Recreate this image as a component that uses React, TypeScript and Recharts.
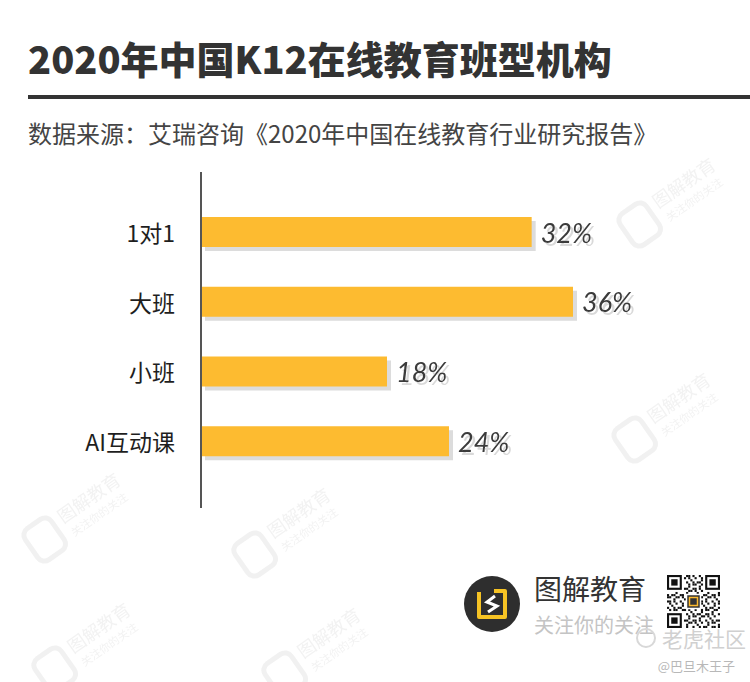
import React from "react";
import { BarChart, Bar, XAxis, YAxis, LabelList } from "recharts";

const categories = ["1对1", "大班", "小班", "AI互动课"];
const shares = [32, 36, 18, 24];
const data = categories.map((name, i) => ({ name, value: shares[i] }));

const title = "2020年中国K12在线教育班型机构";
const source = "数据来源：艾瑞咨询《2020年中国在线教育行业研究报告》";
const brandName = "图解教育";
const brandSlogan = "关注你的关注";
const siteMark = "老虎社区";
const authorMark = "@巴旦木王子";

const YELLOW = "#FDBB30";
const CJK = '"Noto Sans CJK SC", "Noto Sans", sans-serif';

// faint background stamps, kept in empty areas
const stamps = [
  [655, 215], [650, 430], [60, 530], [270, 545], [70, 660], [300, 665],
];

function Stamp({ x, y }: { x: number; y: number }) {
  return (
    <g transform={`translate(${x},${y}) rotate(-35)`} opacity={0.55}>
      <rect x={-34} y={-20} width={32} height={38} rx={8} fill="none" stroke="#e6e6e6" strokeWidth={5} />
      <text fontFamily={CJK} fill="#e8e8e8">
        <tspan x={6} y={-3} fontSize={18}>{brandName}</tspan>
        <tspan x={8} y={14} fontSize={11}>{brandSlogan}</tspan>
      </text>
    </g>
  );
}

function ShadowBar(props: any) {
  const { x, y, width, height } = props;
  return (
    <g>
      <rect x={x + 4} y={y + 4} width={width} height={height} fill="#dcdcdc" />
      <rect x={x} y={y} width={width} height={height} fill={YELLOW} />
    </g>
  );
}

function ValueLabel(props: any) {
  const { x, y, width, height, value } = props;
  return (
    <text
      x={x + width + 9}
      y={y + height / 2}
      fill="#3a3a3a"
      fontFamily="Lato, Roboto, sans-serif"
      fontStyle="italic"
      fontWeight={400}
      fontSize={27}
      dominantBaseline="central"
      filter="url(#labelShadow)"
    >
      {value}%
    </text>
  );
}

function CategoryTick(props: any) {
  const { x, y, payload } = props;
  return (
    <text x={x} y={y} textAnchor="end" dominantBaseline="central" fontSize={23} fill="#1e1e1e" fontFamily={CJK}>
      {payload.value}
    </text>
  );
}

function QrCode({ x, y, size }: { x: number; y: number; size: number }) {
  const n = 25;
  const m = size / n;
  const cells: React.ReactNode[] = [];
  const finder = (fx: number, fy: number, key: string) => (
    <g key={key}>
      <rect x={x + fx * m} y={y + fy * m} width={7 * m} height={7 * m} fill="#111" />
      <rect x={x + (fx + 1) * m} y={y + (fy + 1) * m} width={5 * m} height={5 * m} fill="#fff" />
      <rect x={x + (fx + 2) * m} y={y + (fy + 2) * m} width={3 * m} height={3 * m} fill="#111" />
    </g>
  );
  for (let i = 0; i < n; i++) {
    for (let j = 0; j < n; j++) {
      const inFinder = (i < 8 && j < 8) || (i < 8 && j > n - 9) || (i > n - 9 && j < 8);
      if (inFinder) continue;
      if ((i * 7 + j * 13 + i * j) % 3 === 0 || (i + j * 3) % 5 === 0) {
        cells.push(<rect key={`${i}-${j}`} x={x + j * m} y={y + i * m} width={m} height={m} fill="#111" />);
      }
    }
  }
  return (
    <g>
      {cells}
      {finder(0, 0, "a")}
      {finder(n - 7, 0, "b")}
      {finder(0, n - 7, "c")}
      <rect x={x + size / 2 - 7} y={y + size / 2 - 7} width={14} height={14} fill="#333" stroke="#fff" strokeWidth={1.5} />
      <rect x={x + size / 2 - 4} y={y + size / 2 - 4} width={8} height={8} fill="none" stroke={YELLOW} strokeWidth={1.5} />
    </g>
  );
}

function Footer() {
  const cx = 492;
  const cy = 604;
  return (
    <svg width={750} height={682} style={{ position: "absolute", left: 0, top: 0 }}>
      <circle cx={cx} cy={cy} r={28} fill="#2e2e2e" />
      <path
        d={`M${cx - 13} ${cy - 12} L${cx - 13} ${cy + 13} L${cx + 13} ${cy + 13} L${cx + 13} ${cy - 13} L${cx + 2} ${cy - 13}`}
        fill="none"
        stroke="#F6C324"
        strokeWidth={4}
        strokeLinejoin="round"
      />
      <path
        d={`M${cx + 3} ${cy - 8} L${cx - 5} ${cy - 2} L${cx + 5} ${cy + 2} L${cx - 4} ${cy + 8}`}
        fill="none"
        stroke="#ffffff"
        strokeWidth={3}
      />
      <text x={534} y={588} dominantBaseline="central" fontSize={28} fill="#333" fontFamily={CJK}>{brandName}</text>
      <text x={534} y={624} dominantBaseline="central" fontSize={20} fill="#c4c4c4" fontFamily={CJK}>{brandSlogan}</text>
      <QrCode x={667} y={575} size={53} />
      <circle cx={646} cy={638} r={9} fill="none" stroke="#d8d8d8" strokeWidth={2} />
      <text x={662} y={638} dominantBaseline="central" fontSize={21} fill="#d0d0d0" fontFamily={CJK}>{siteMark}</text>
      <text x={735} y={665} dominantBaseline="central" textAnchor="end" fontSize={13} fill="#b8b8b8" fontFamily={CJK}>{authorMark}</text>
    </svg>
  );
}

export default function App() {
  return (
    <div
      style={{
        position: "absolute",
        left: 0,
        top: 0,
        width: 750,
        height: 682,
        background: "#fff",
        overflow: "hidden",
        fontFamily: CJK,
      }}
    >
      <svg width={750} height={682} style={{ position: "absolute", left: 0, top: 0 }}>
        <defs>
          <filter id="labelShadow" x="-20%" y="-30%" width="150%" height="170%">
            <feOffset in="SourceAlpha" dx={3} dy={3} result="off" />
            <feFlood floodColor="#d9d9d9" />
            <feComposite in2="off" operator="in" result="shadow" />
            <feMerge>
              <feMergeNode in="shadow" />
              <feMergeNode in="SourceGraphic" />
            </feMerge>
          </filter>
        </defs>
        {stamps.map(([sx, sy], i) => (
          <Stamp key={i} x={sx} y={sy} />
        ))}
      </svg>
      <div
        style={{
          position: "absolute",
          left: 28,
          top: 36,
          fontSize: 38,
          lineHeight: "44px",
          fontWeight: 900,
          color: "#333",
          whiteSpace: "nowrap",
        }}
      >
        {title}
      </div>
      <div style={{ position: "absolute", left: 28, top: 95, width: 722, height: 4, background: "#333" }} />
      <div
        style={{
          position: "absolute",
          left: 28,
          top: 119,
          fontSize: 24,
          lineHeight: "28px",
          color: "#444",
          whiteSpace: "nowrap",
        }}
      >
        {source}
      </div>
      <div style={{ position: "absolute", left: 0, top: 0 }}>
        <BarChart
          width={750}
          height={682}
          data={data}
          layout="vertical"
          margin={{ top: 172, right: 177, bottom: 174, left: 0 }}
        >
          <XAxis type="number" domain={[0, 36]} hide />
          <YAxis
            type="category"
            dataKey="name"
            width={201}
            axisLine={{ stroke: "#555", strokeWidth: 2 }}
            tickLine={false}
            tickSize={0}
            tickMargin={26}
            padding={{ top: 25, bottom: 32 }}
            tick={<CategoryTick />}
          />
          <Bar dataKey="value" barSize={30} shape={<ShadowBar />} isAnimationActive={false}>
            <LabelList dataKey="value" content={<ValueLabel />} />
          </Bar>
        </BarChart>
      </div>
      <Footer />
    </div>
  );
}
